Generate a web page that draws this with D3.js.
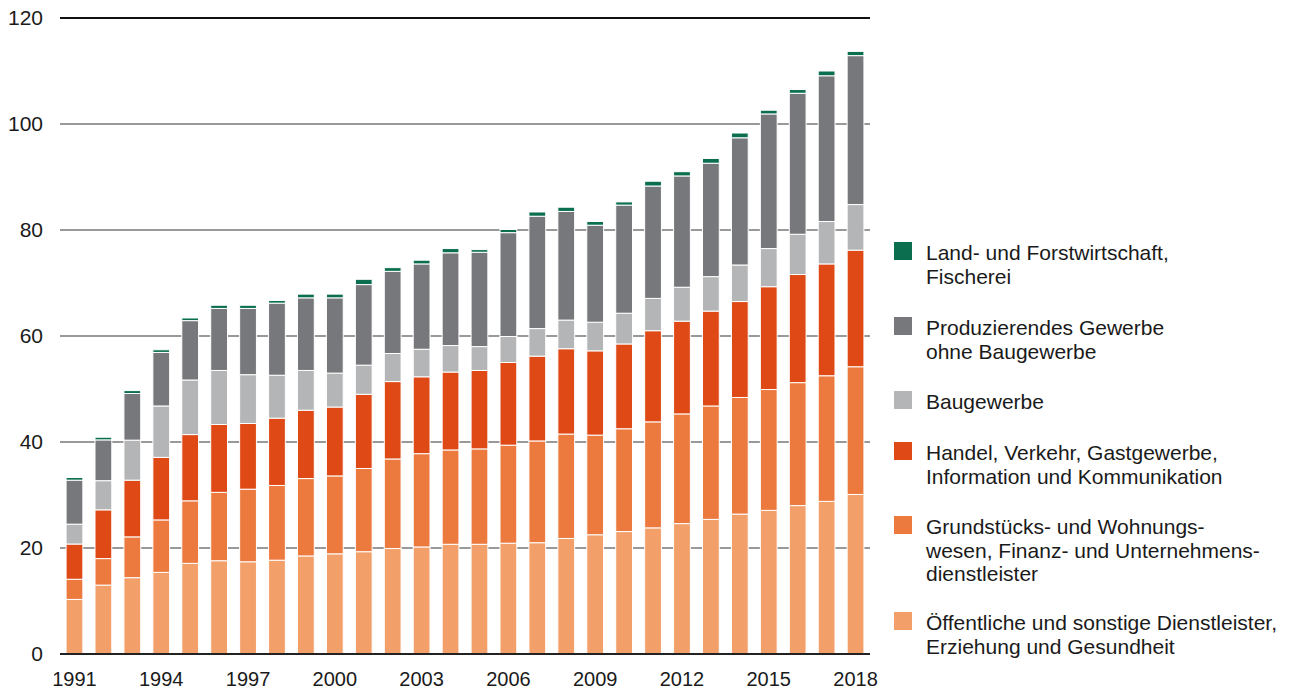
<!DOCTYPE html>
<html>
<head>
<meta charset="utf-8">
<script src="https://cdn.jsdelivr.net/npm/d3@7"></script>
<style>
  body { margin: 0; background: #fff; }
  text { font-family: "Liberation Sans", Arial, sans-serif; fill: #1a1a1a; }
</style>
</head>
<body>
<div id="chart"></div>
<script>
// Data
const years = [1991, 1992, 1993, 1994, 1995, 1996, 1997, 1998, 1999, 2000,
               2001, 2002, 2003, 2004, 2005, 2006, 2007, 2008, 2009, 2010,
               2011, 2012, 2013, 2014, 2015, 2016, 2017, 2018];
const oeffentlich = [10.3, 13.0, 14.4, 15.4, 17.1, 17.6, 17.4, 17.7, 18.5, 18.9,
                     19.3, 19.9, 20.2, 20.7, 20.7, 20.9, 21.0, 21.8, 22.5, 23.1,
                     23.8, 24.6, 25.4, 26.4, 27.1, 28.0, 28.8, 30.1];
const grundstuecke = [3.8, 5.0, 7.7, 9.9, 11.8, 12.9, 13.7, 14.1, 14.6, 14.7,
                      15.7, 16.9, 17.6, 17.8, 18.0, 18.5, 19.2, 19.7, 18.8, 19.4,
                      20.0, 20.7, 21.4, 22.0, 22.8, 23.2, 23.7, 24.1];
const handel = [6.65, 9.2, 10.7, 11.8, 12.5, 12.8, 12.4, 12.7, 12.9, 13.0,
                14.0, 14.6, 14.5, 14.7, 14.8, 15.6, 16.0, 16.1, 15.9, 16.0,
                17.2, 17.5, 17.9, 18.1, 19.4, 20.4, 21.1, 22.0];
const baugewerbe = [3.75, 5.5, 7.55, 9.7, 10.3, 10.2, 9.2, 8.1, 7.5, 6.4,
                    5.5, 5.3, 5.2, 5.0, 4.5, 4.9, 5.2, 5.4, 5.4, 5.8,
                    6.1, 6.4, 6.5, 6.9, 7.2, 7.6, 8.0, 8.6];
const produzierend = [8.3, 7.7, 8.8, 10.1, 11.2, 11.7, 12.5, 13.6, 13.7, 14.2,
                      15.2, 15.5, 16.1, 17.5, 17.8, 19.6, 21.2, 20.5, 18.3, 20.4,
                      21.2, 21.0, 21.4, 24.0, 25.4, 26.6, 27.5, 28.1];
const landwirtschaft = [0.5, 0.5, 0.55, 0.5, 0.5, 0.6, 0.6, 0.5, 0.7, 0.7,
                        1.0, 0.7, 0.7, 0.8, 0.5, 0.6, 0.8, 0.8, 0.7, 0.6,
                        0.9, 0.8, 0.9, 0.9, 0.7, 0.7, 0.9, 0.8];
const yTicks = [0, 20, 40, 60, 80, 100, 120];
const xTickYears = [1991, 1994, 1997, 2000, 2003, 2006, 2009, 2012, 2015, 2018];

// Series, bottom to top
const series = [
  { key: "oeff",  values: oeffentlich,   color: "#f29f69", label: ["Öffentliche und sonstige Dienstleister,", "Erziehung und Gesundheit"] },
  { key: "grund", values: grundstuecke,  color: "#ec7a3e", label: ["Grundstücks- und Wohnungs-", "wesen, Finanz- und Unternehmens-", "dienstleister"] },
  { key: "handel", values: handel,       color: "#de4916", label: ["Handel, Verkehr, Gastgewerbe,", "Information und Kommunikation"] },
  { key: "bau",   values: baugewerbe,    color: "#b4b5b6", label: ["Baugewerbe"] },
  { key: "prod",  values: produzierend,  color: "#77787b", label: ["Produzierendes Gewerbe", "ohne Baugewerbe"] },
  { key: "land",  values: landwirtschaft, color: "#0b6e4f", label: ["Land- und Forstwirtschaft,", "Fischerei"] }
];

const table = years.map((yr, i) => {
  const row = { year: yr };
  series.forEach(s => row[s.key] = s.values[i]);
  return row;
});

const W = 1297, H = 693;
const svg = d3.select("#chart").append("svg")
    .attr("width", W)
    .attr("height", H);

// Scales
const x = d3.scaleBand()
    .domain(years)
    .range([60, 870])
    .paddingInner(0.42)
    .paddingOuter(0.21);

const y = d3.scaleLinear()
    .domain([0, 120])
    .range([654, 18]);

// Gridlines
svg.append("g")
  .selectAll("line")
  .data(yTicks)
  .join("line")
    .attr("x1", 60)
    .attr("x2", 870)
    .attr("y1", d => y(d))
    .attr("y2", d => y(d))
    .attr("stroke", d => d === 120 ? "#111" : "#999")
    .attr("stroke-width", 2);

// Y labels
svg.append("g")
  .selectAll("text")
  .data(yTicks)
  .join("text")
    .attr("x", 43)
    .attr("y", d => y(d))
    .attr("dy", "0.35em")
    .attr("text-anchor", "end")
    .attr("font-size", 21)
    .text(d => d);

// Stacked bars
const stack = d3.stack().keys(series.map(s => s.key));
const layers = stack(table);

svg.append("g")
  .selectAll("g")
  .data(layers)
  .join("g")
    .attr("fill", (d, i) => series[i].color)
  .selectAll("rect")
  .data(d => d)
  .join("rect")
    .attr("x", d => x(d.data.year))
    .attr("width", x.bandwidth())
    .attr("y", d => y(d[1]))
    .attr("height", d => y(d[0]) - y(d[1]))
    .attr("stroke", "#fff")
    .attr("stroke-width", 1);

// Baseline
svg.append("line")
    .attr("x1", 60)
    .attr("x2", 870)
    .attr("y1", y(0))
    .attr("y2", y(0))
    .attr("stroke", "#222")
    .attr("stroke-width", 2);

// X labels
svg.append("g")
  .selectAll("text")
  .data(xTickYears)
  .join("text")
    .attr("x", d => x(d) + x.bandwidth() / 2)
    .attr("y", 679)
    .attr("dy", "0.35em")
    .attr("text-anchor", "middle")
    .attr("font-size", 20)
    .text(d => d);

// Legend (top to bottom)
const legendTops = [253, 328, 402, 453, 527, 623];
const legendSeries = series.slice().reverse();
const legend = svg.append("g");
legendSeries.forEach((s, i) => {
  const cy = legendTops[i];
  legend.append("rect")
      .attr("x", 894)
      .attr("y", cy - 11)
      .attr("width", 18)
      .attr("height", 18)
      .attr("fill", s.color);
  const t = legend.append("text")
      .attr("x", 926)
      .attr("y", cy)
      .attr("font-size", 21);
  s.label.forEach((line, j) => {
    t.append("tspan")
        .attr("x", 926)
        .attr("dy", j === 0 ? "0.35em" : 23.3)
        .text(line);
  });
});
</script>
</body>
</html>
